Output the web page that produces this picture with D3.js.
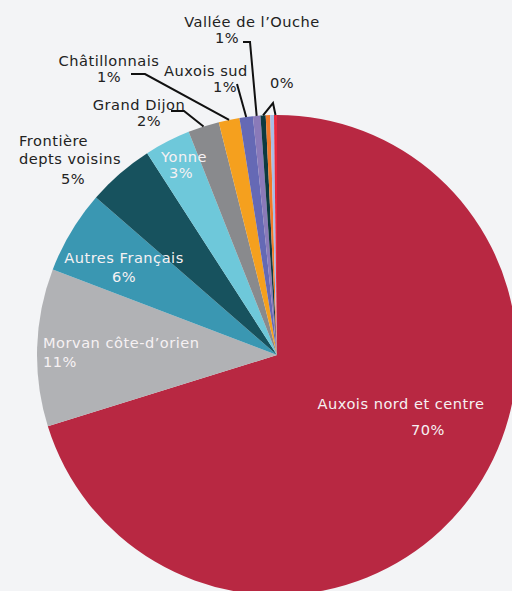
<!DOCTYPE html>
<html><head><meta charset="utf-8">
<script src="https://cdn.jsdelivr.net/npm/d3@7"></script>
<style>html,body{margin:0;padding:0;background:#f3f4f6;}svg{display:block;}</style>
</head><body>
<svg id="c" width="512" height="591"></svg>
<script>
const categories = ["Auxois nord et centre","Morvan côte-d’orien","Autres Français","Frontière depts voisins","Yonne","Grand Dijon","Châtillonnais","Auxois sud","Vallée de l’Ouche","Autre a","Autre b","Autre c","Autre d"];
const values = [70.2,10.6,5.6,4.5,3.1,2.1,1.4,0.9,0.5,0.35,0.3,0.25,0.2];
const pctLabels = ["70%","11%","6%","5%","3%","2%","1%","1%","1%","0%","0%","0%","0%"];
const colors = ["#b82842","#b1b2b5","#3a97b2","#17525e","#6ec8da","#898a8d","#f5a01e","#6569b5","#8a7ab9","#0e3a40","#f07a2a","#a8bde6","#e8283c"];

const svg = d3.select("#c");
const cx = 277, cy = 355, R = 240;
const g = svg.append("g").attr("transform", `translate(${cx},${cy})`);
const pie = d3.pie().sort(null).value(d => d)(values);
const arc = d3.arc().innerRadius(0).outerRadius(R);
g.selectAll("path").data(pie).join("path")
  .attr("d", arc).attr("fill", (d,i) => colors[i]);

const font = "DejaVu Sans, Verdana, sans-serif";
const dark = "#222", light = "#f6f1f3";
const labels = [
  ["Auxois nord et centre", 401, 409, "middle", light],
  [pctLabels[0], 428, 435, "middle", light],
  ["Morvan côte-d’orien", 43, 348, "start", light],
  [pctLabels[1], 43, 367, "start", light],
  ["Autres Français", 124, 263, "middle", light],
  [pctLabels[2], 124, 282, "middle", light],
  ["Frontière", 19, 146, "start", dark],
  ["depts voisins", 19, 164, "start", dark],
  [pctLabels[3], 73, 184, "middle", dark],
  ["Yonne", 184, 162, "middle", light],
  [pctLabels[4], 181, 178, "middle", light],
  ["Grand Dijon", 139, 110, "middle", dark],
  [pctLabels[5], 149, 126, "middle", dark],
  ["Châtillonnais", 109, 66, "middle", dark],
  [pctLabels[6], 109, 82, "middle", dark],
  ["Auxois sud", 206, 76, "middle", dark],
  [pctLabels[7], 225, 92, "middle", dark],
  ["Vallée de l’Ouche", 252, 27, "middle", dark],
  [pctLabels[8], 227, 43, "middle", dark],
  [pctLabels[9], 282, 88, "middle", dark]
];
svg.selectAll("text.l").data(labels).join("text").attr("class","l")
  .attr("x", d => d[1]).attr("y", d => d[2]).attr("text-anchor", d => d[3])
  .attr("fill", d => d[4]).attr("font-family", font).attr("font-size", 14.6)
  .attr("letter-spacing", 0.5)
  .text(d => d[0]);

function edge(i, f) {
  const d = pie[i];
  const a = d.startAngle + (d.endAngle - d.startAngle) * (f === undefined ? 0.5 : f);
  return [cx + R * Math.sin(a), cy - R * Math.cos(a)];
}
const leaders = [
  [[243,42],[250,42], edge(8)],
  [[237,84], edge(7)],
  [[131,74],[145,74], edge(6)],
  [[171,111],[184,111], edge(5)],
  [edge(9), [273,103], edge(12)]
];
svg.selectAll("path.ld").data(leaders).join("path").attr("class","ld")
  .attr("d", d => d3.line()(d)).attr("fill","none").attr("stroke","#111").attr("stroke-width",2);
</script>
</body></html>
